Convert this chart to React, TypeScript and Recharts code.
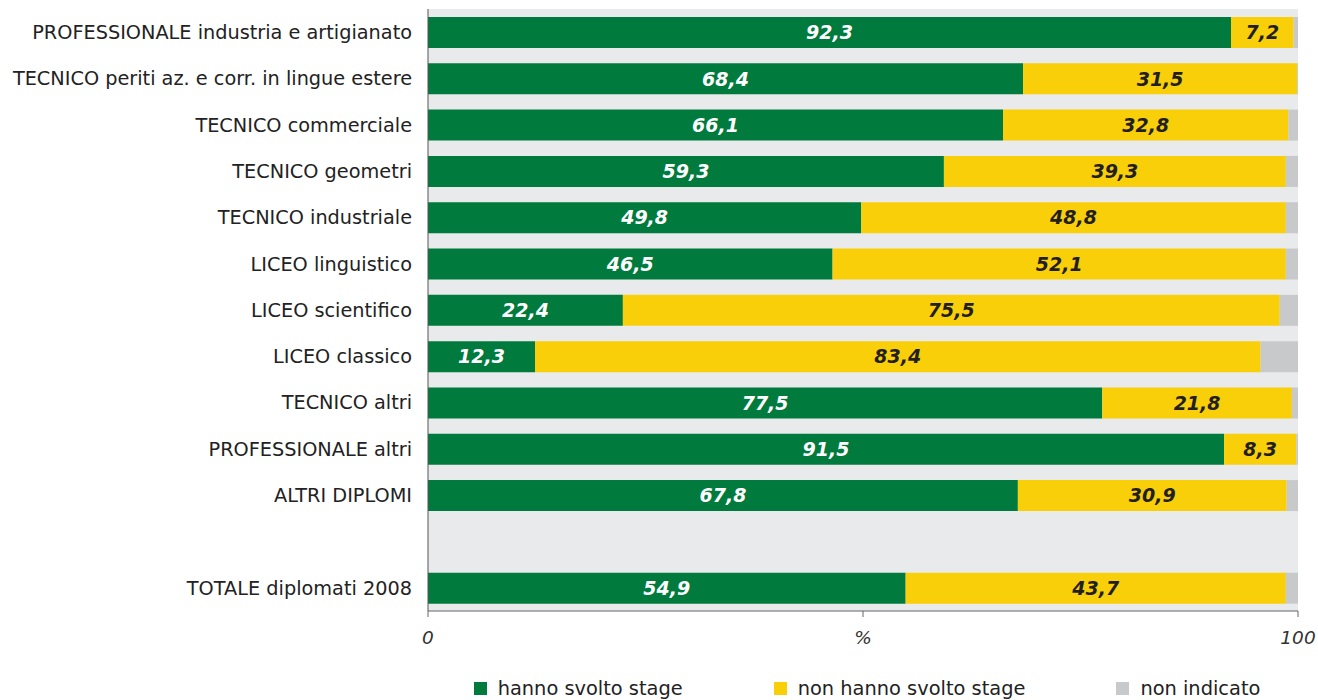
import { BarChart, Bar, XAxis, YAxis, CartesianGrid, Legend, LabelList } from "recharts";

const categories = [
  "PROFESSIONALE industria e artigianato",
  "TECNICO periti az. e corr. in lingue estere",
  "TECNICO commerciale",
  "TECNICO geometri",
  "TECNICO industriale",
  "LICEO linguistico",
  "LICEO scientifico",
  "LICEO classico",
  "TECNICO altri",
  "PROFESSIONALE altri",
  "ALTRI DIPLOMI",
  "",
  "TOTALE diplomati 2008",
];

const svolto = [92.3, 68.4, 66.1, 59.3, 49.8, 46.5, 22.4, 12.3, 77.5, 91.5, 67.8, null, 54.9];
const nonSvolto = [7.2, 31.5, 32.8, 39.3, 48.8, 52.1, 75.5, 83.4, 21.8, 8.3, 30.9, null, 43.7];
const nonIndicato = [0.5, 0.1, 1.1, 1.4, 1.4, 1.4, 2.1, 4.3, 0.7, 0.2, 1.3, null, 1.4];

const xTicks = [0, 50, 100];

const data = categories.map((name, i) => ({
  name,
  svolto: svolto[i],
  nonSvolto: nonSvolto[i],
  nonIndicato: nonIndicato[i],
}));

const GREEN = "#007A3D";
const YELLOW = "#F9CF0A";
const GRAY = "#C8C9CB";
const FONT = "'DejaVu Sans', Verdana, sans-serif";

const fmt = (v: any) => (v == null ? "" : Number(v).toFixed(1).replace(".", ","));

const labelStyle = { fontSize: 19, fontWeight: 700, fontStyle: "italic", fontFamily: FONT };

function LegendContent({ payload }: any) {
  return (
    <div
      style={{
        display: "flex",
        justifyContent: "center",
        paddingLeft: 8,
        fontFamily: FONT,
        fontSize: 19.4,
        color: "#222",
      }}
    >
      {(payload || []).map((p: any, i: number) => (
        <div key={i} style={{ display: "flex", alignItems: "center", marginLeft: i === 0 ? 0 : 91 }}>
          <span style={{ width: 13, height: 13, background: p.color, display: "inline-block", marginRight: 11 }} />
          <span>{p.value}</span>
        </div>
      ))}
    </div>
  );
}

export default function App() {
  return (
    <div style={{ position: "absolute", left: 0, top: 0, background: "#fff" }}>
      <BarChart
        width={1318}
        height={700}
        data={data}
        layout="vertical"
        barSize={31}
        margin={{ top: 9, right: 20, left: 0, bottom: 16 }}
      >
        <CartesianGrid horizontal={false} vertical={false} fill="#E9EAEC" />
        <XAxis
          type="number"
          domain={[0, 100]}
          ticks={xTicks}
          tickFormatter={(v) => (v === 50 ? "%" : String(v))}
          height={50}
          tickSize={6}
          tickMargin={14}
          axisLine={{ stroke: "#666" }}
          tickLine={{ stroke: "#666" }}
          tick={{ fontSize: 18.5, fontStyle: "italic", fill: "#333", fontFamily: FONT }}
        />
        <YAxis
          type="category"
          dataKey="name"
          width={428}
          interval={0}
          tickLine={false}
          tickSize={0}
          tickMargin={16}
          axisLine={{ stroke: "#555" }}
          tick={{ fontSize: 19.3, fill: "#222", fontFamily: FONT }}
        />
        <Legend
          verticalAlign="bottom"
          content={<LegendContent />}
          wrapperStyle={{ left: 428, width: 870, bottom: 0 }}
        />
        <Bar dataKey="svolto" name="hanno svolto stage" stackId="a" fill={GREEN} isAnimationActive={false}>
          <LabelList dataKey="svolto" position="center" formatter={fmt} fill="#fff" style={labelStyle} />
        </Bar>
        <Bar dataKey="nonSvolto" name="non hanno svolto stage" stackId="a" fill={YELLOW} isAnimationActive={false}>
          <LabelList dataKey="nonSvolto" position="center" formatter={fmt} fill="#231F20" style={labelStyle} />
        </Bar>
        <Bar dataKey="nonIndicato" name="non indicato" stackId="a" fill={GRAY} isAnimationActive={false} />
      </BarChart>
    </div>
  );
}
